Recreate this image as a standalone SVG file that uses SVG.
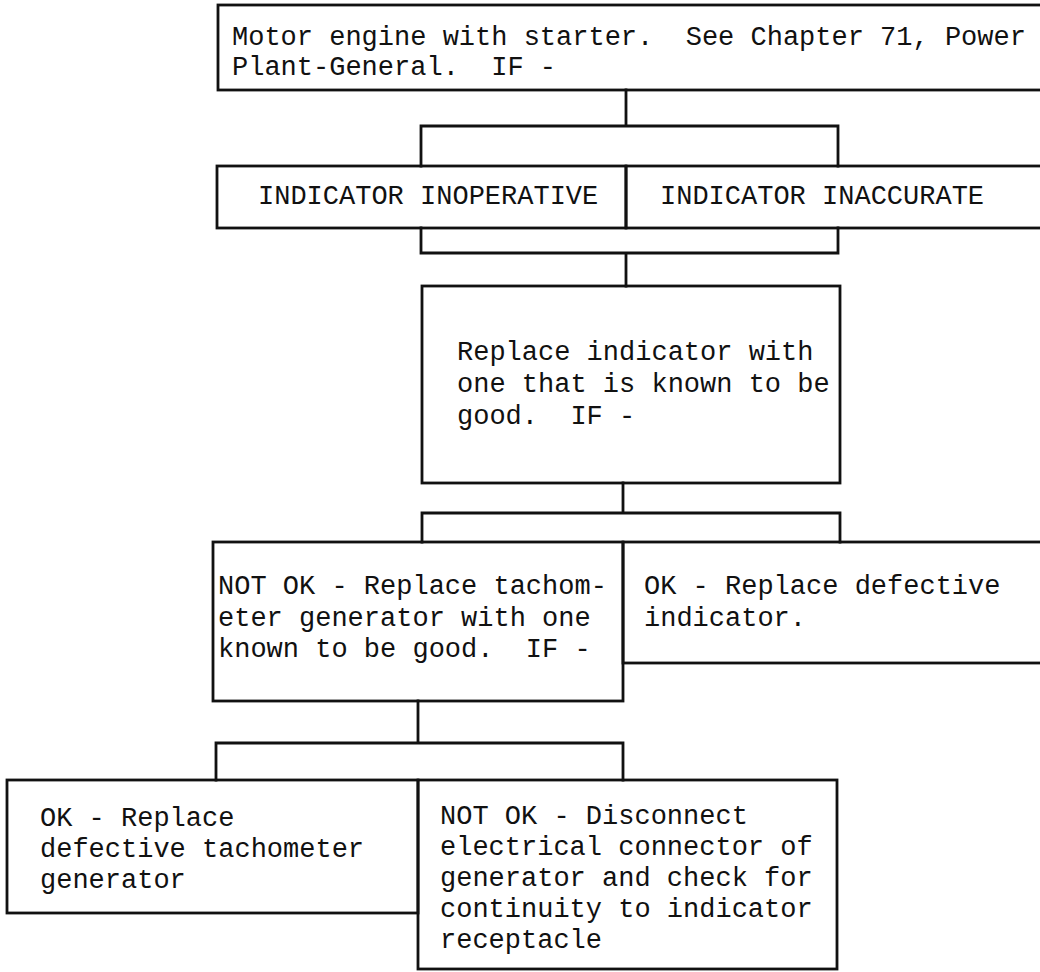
<svg xmlns="http://www.w3.org/2000/svg" width="1040" height="972" viewBox="0 0 1040 972" xml:space="preserve">
<style>
  .box { fill: none; stroke: #111; stroke-width: 2.8; }
  .line { fill: none; stroke: #111; stroke-width: 2.8; stroke-linecap: square; }
  text { font-family: "Liberation Mono", "Courier New", monospace; font-size: 27px; fill: #111; white-space: pre; }
</style>
<rect width="1040" height="972" fill="#fff"/>

<g id="connectors">
  <path class="line" d="M626 90 V126 M421 126 H838 M421 126 V166 M838 126 V166"/>
  <path class="line" d="M421 228 V253 H838 V228 M626 253 V286"/>
  <path class="line" d="M623 483 V513 M422 513 H840 M422 513 V542 M840 513 V542"/>
  <path class="line" d="M418 701 V743 M216 743 H623 M216 743 V780 M623 743 V780"/>
</g>

<g id="start">
  <rect class="box" x="218" y="5" width="830" height="85"/>
  <text x="232" y="45">Motor engine with starter.  See Chapter 71, Power</text>
  <text x="232" y="75">Plant-General.  IF -</text>
</g>

<g id="inoperative">
  <rect class="box" x="217" y="166" width="409" height="62"/>
  <text x="258" y="204">INDICATOR INOPERATIVE</text>
</g>

<g id="inaccurate">
  <rect class="box" x="626" y="166" width="420" height="62"/>
  <text x="660" y="204">INDICATOR INACCURATE</text>
</g>

<g id="replace-indicator">
  <rect class="box" x="422" y="286" width="418" height="197"/>
  <text x="457" y="360">Replace indicator with</text>
  <text x="457" y="392">one that is known to be</text>
  <text x="457" y="424">good.  IF -</text>
</g>

<g id="not-ok-generator">
  <rect class="box" x="213" y="542" width="410" height="159"/>
  <text x="218" y="594">NOT OK - Replace tachom-</text>
  <text x="218" y="626">eter generator with one</text>
  <text x="218" y="657">known to be good.  IF -</text>
</g>

<g id="ok-indicator">
  <rect class="box" x="623" y="542" width="423" height="121"/>
  <text x="644" y="594">OK - Replace defective</text>
  <text x="644" y="626">indicator.</text>
</g>

<g id="ok-generator">
  <rect class="box" x="7" y="780" width="411" height="133"/>
  <text x="40" y="826">OK - Replace</text>
  <text x="40" y="857">defective tachometer</text>
  <text x="40" y="888">generator</text>
</g>

<g id="not-ok-continuity">
  <rect class="box" x="418" y="780" width="419" height="189"/>
  <text x="440" y="824">NOT OK - Disconnect</text>
  <text x="440" y="855">electrical connector of</text>
  <text x="440" y="886">generator and check for</text>
  <text x="440" y="917">continuity to indicator</text>
  <text x="440" y="948">receptacle</text>
</g>
</svg>
